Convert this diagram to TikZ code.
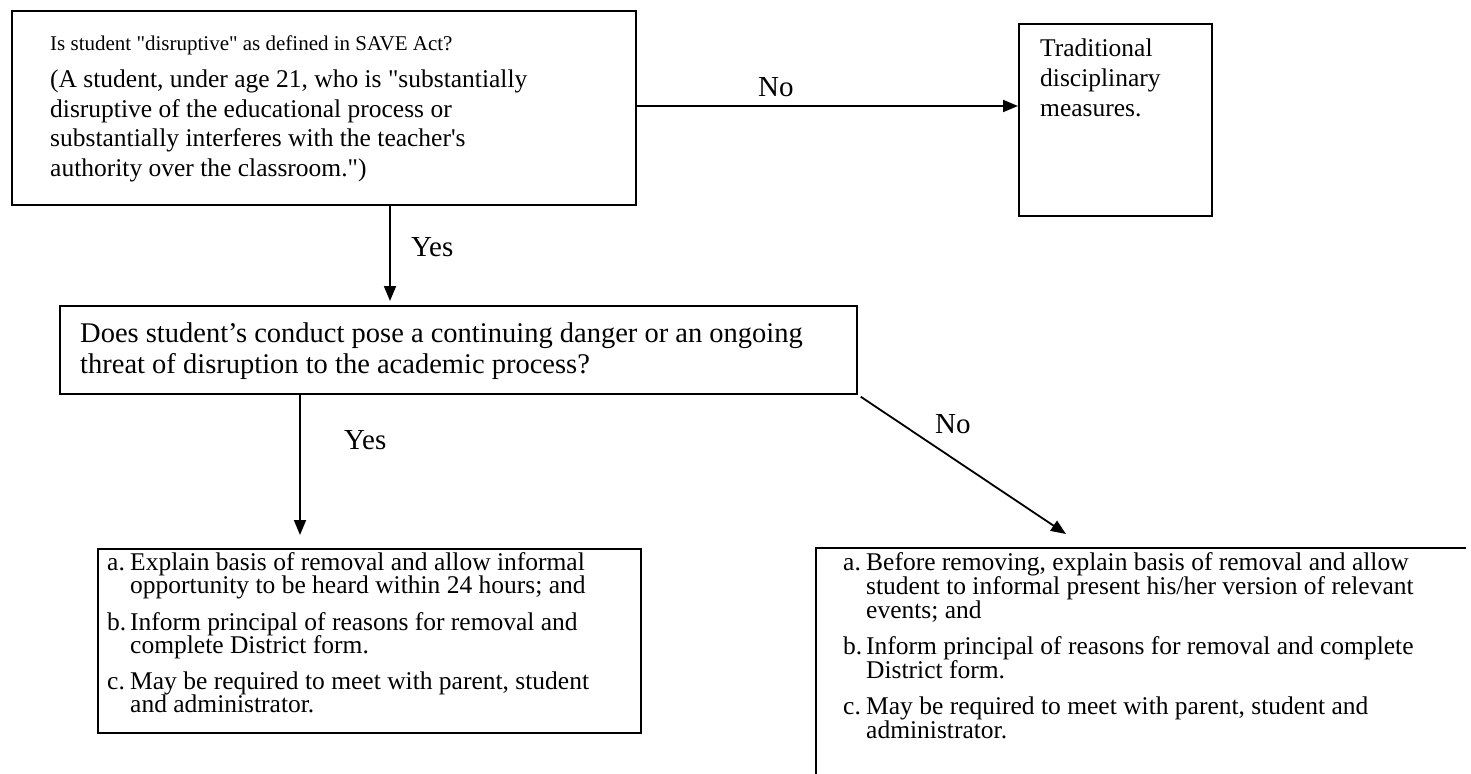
\documentclass[tikz,border=0pt]{standalone}
\usepackage{fontspec}
\setmainfont{Liberation Serif}[Ligatures=TeXOff]
\usetikzlibrary{arrows.meta}
\begin{document}
\begin{tikzpicture}[x=1pt,y=-1pt,
  frame/.style={draw, line width=1.7pt, inner sep=0pt, anchor=north west},
  arr/.style={line width=1.8pt, -{Triangle[width=12pt,length=15pt]}},
  lbl/.style={anchor=base west, inner sep=0pt, font=\fontsize{29}{30}\selectfont},
  txt/.style={anchor=base west, inner sep=0pt}]
\useasboundingbox (0,0) rectangle (1471,773);
% boxes
\node[frame, minimum width=624pt, minimum height=194pt] (q1) at (11,10) {};
\node[frame, minimum width=193pt, minimum height=192pt] (trad) at (1018,23) {};
\node[frame, minimum width=797pt, minimum height=88pt] (q2) at (59,305) {};
\node[frame, minimum width=543pt, minimum height=184pt] (ra) at (97,548) {};
\node[inner sep=0pt, anchor=north west, minimum width=650pt, minimum height=235pt] (rb) at (816,548) {};
\draw[line width=1.7pt] (rb.north east) -- (rb.north west) -- (rb.south west);
% texts
\node[txt] (q1a) at (50,51) {\fontsize{21}{24}\selectfont Is student "disruptive" as defined in SAVE Act?};
\node[txt] (q1b) at (50,88) {\parbox[t]{580pt}{\raggedright\fontsize{25.5}{29.5}\selectfont
(A student, under age 21, who is "substantially\\
disruptive of the educational process or\\
substantially interferes with the teacher's\\
authority over the classroom.")}};
\node[txt] (tradt) at (1040,57) {\parbox[t]{170pt}{\raggedright\fontsize{25.5}{30}\selectfont
Traditional\\ disciplinary\\ measures.}};
\node[txt] (q2t) at (80,342) {\parbox[t]{770pt}{\raggedright\fontsize{28.5}{31}\selectfont\lineskiplimit=-50pt
Does student’s conduct pose a continuing danger or an ongoing\\
threat of disruption to the academic process?}};
\node[txt] (rat) at (107,570) {\parbox[t]{530pt}{\raggedright\fontsize{25.5}{23.5}\selectfont\lineskiplimit=-50pt
\makebox[23pt][l]{a.}Explain basis of removal and allow informal\\
\hspace*{23pt}opportunity to be heard within 24 hours; and\\[13pt]
\makebox[23pt][l]{b.}Inform principal of reasons for removal and\\
\hspace*{23pt}complete District form.\\[12pt]
\makebox[23pt][l]{c.}May be required to meet with parent, student\\
\hspace*{23pt}and administrator.}};
\node[txt] (rbt) at (843,570) {\parbox[t]{620pt}{\raggedright\fontsize{25.5}{24}\selectfont\lineskiplimit=-50pt
\makebox[23pt][l]{a.}Before removing, explain basis of removal and allow\\
\hspace*{23pt}student to informal present his/her version of relevant\\
\hspace*{23pt}events; and\\[12pt]
\makebox[23pt][l]{b.}Inform principal of reasons for removal and complete\\
\hspace*{23pt}District form.\\[12pt]
\makebox[23pt][l]{c.}May be required to meet with parent, student and\\
\hspace*{23pt}administrator.}};
% connectors
\coordinate (c1) at (390,0);
\coordinate (c2) at (300,0);
\coordinate (ntip) at (1066,534);
\draw[arr] (q1.east |- 0,106) -- (trad.west |- 0,106);
\draw[arr, shorten >=4pt] (q1.south -| c1) -- (q2.north -| c1);
\draw[arr, shorten >=13pt] (q2.south -| c2) -- (ra.north -| c2);
\draw[arr] ([shift={(3pt,-2pt)}]q2.south east) -- (ntip);
% labels
\node[lbl] (no1) at (758,97) {No};
\node[lbl] (yes1) at (411,256) {Yes};
\node[lbl] (yes2) at (344,449) {Yes};
\node[lbl] (no2) at (935,433) {No};
\end{tikzpicture}
\end{document}
